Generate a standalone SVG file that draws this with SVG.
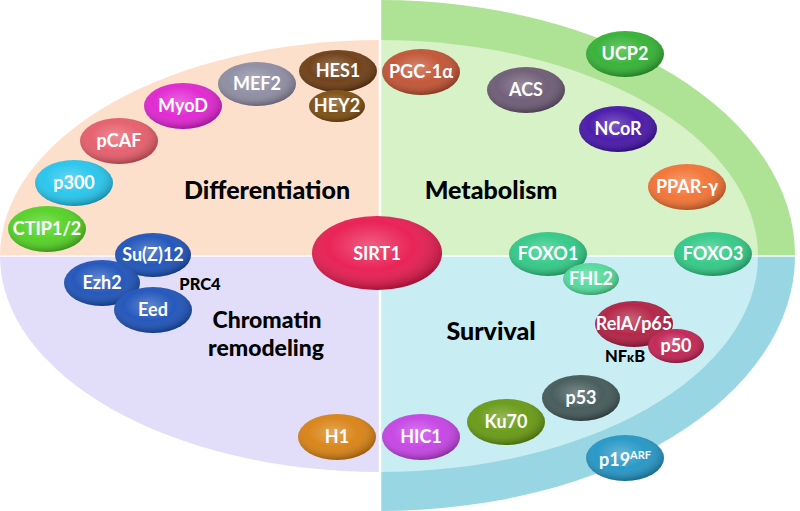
<svg xmlns="http://www.w3.org/2000/svg" width="800" height="511" viewBox="0 0 800 511">
<style>
.lbl{font-family:Lato,"Liberation Sans",Arial,sans-serif;font-weight:bold;fill:#fff;font-size:18px;text-anchor:middle}
.big{font-family:Lato,"Liberation Sans",Arial,sans-serif;font-weight:900;fill:#000;font-size:25px;text-anchor:middle}
.mid{font-family:Lato,"Liberation Sans",Arial,sans-serif;font-weight:900;fill:#000;font-size:23px;text-anchor:middle}
.sm{font-family:Lato,"Liberation Sans",Arial,sans-serif;font-weight:900;fill:#000;font-size:16.5px;text-anchor:middle}
.shade{fill:url(#shade)}
</style>
<defs>
<radialGradient id="shade" cx="0.45" cy="0.4" r="0.6">
<stop offset="0" stop-color="#fff" stop-opacity="0.3"/>
<stop offset="0.55" stop-color="#fff" stop-opacity="0.05"/>
<stop offset="1" stop-color="#000" stop-opacity="0.28"/>
</radialGradient>
</defs>
<g id="background">
<path d="M380,0 A415,255 0 0 1 795,256 L380,256 Z" fill="#aee294"/>
<path d="M795,256 A415,255 0 0 1 380,511 L380,256 Z" fill="#98d6e4"/>
<path d="M380,40 A378,216 0 0 1 758,256 L380,256 Z" fill="#d6f2c6"/>
<path d="M758,256 A378,216 0 0 1 380,472 L380,256 Z" fill="#c8edf3"/>
<path d="M380,40 A380,216 0 0 0 0,256 L380,256 Z" fill="#fde0cc"/>
<path d="M0,256 A380,216 0 0 0 380,472 L380,256 Z" fill="#e2ddf8"/>
<line x1="0" y1="256" x2="800" y2="256" stroke="#fff" stroke-opacity="0.7" stroke-width="2"/>
<line x1="380" y1="0" x2="380" y2="511" stroke="#fff" stroke-width="2.5"/>
</g>
<g id="titles">
<text class="big" x="267" y="199">Differentiation</text>
<text class="big" x="491" y="199">Metabolism</text>
<text class="mid" x="267" y="328">Chromatin</text>
<text class="mid" x="266" y="356">remodeling</text>
<text class="big" x="491" y="340">Survival</text>
<text class="sm" x="200" y="290">PRC4</text>
<text class="sm" x="625" y="362">NF<tspan font-size="13">κ</tspan>B</text>
</g>
<g id="connectors"></g>
<g id="n-HES1"><ellipse cx="338" cy="71" rx="39" ry="21" fill="#6b3a10"/><ellipse class="shade" cx="338" cy="71" rx="39" ry="21"/><text class="lbl" x="338" y="77">HES1</text></g>
<g id="n-HEY2"><ellipse cx="337" cy="106" rx="28" ry="16" fill="#7a4a0c"/><ellipse class="shade" cx="337" cy="106" rx="28" ry="16"/><text class="lbl" x="337" y="112">HEY2</text></g>
<g id="n-MEF2"><ellipse cx="257" cy="84" rx="39" ry="22" fill="#8c8aa0"/><ellipse class="shade" cx="257" cy="84" rx="39" ry="22"/><text class="lbl" x="257" y="90">MEF2</text></g>
<g id="n-MyoD"><ellipse cx="183" cy="106" rx="39" ry="23" fill="#e020d0"/><ellipse class="shade" cx="183" cy="106" rx="39" ry="23"/><text class="lbl" x="183" y="112">MyoD</text></g>
<g id="n-pCAF"><ellipse cx="119" cy="141" rx="39" ry="23" fill="#e55a68"/><ellipse class="shade" cx="119" cy="141" rx="39" ry="23"/><text class="lbl" x="119" y="147">pCAF</text></g>
<g id="n-p300"><ellipse cx="74" cy="183" rx="39" ry="23" fill="#22c4ec"/><ellipse class="shade" cx="74" cy="183" rx="39" ry="23"/><text class="lbl" x="74" y="189">p300</text></g>
<g id="n-CTIP"><ellipse cx="47" cy="229" rx="39" ry="23" fill="#50d020"/><ellipse class="shade" cx="47" cy="229" rx="39" ry="23"/><text class="lbl" x="47" y="235" font-size="17">CTIP1/2</text></g>
<g id="n-SuZ12"><ellipse cx="153" cy="255" rx="38" ry="22" fill="#1a50b8"/><ellipse class="shade" cx="153" cy="255" rx="38" ry="22"/><text class="lbl" x="153" y="261">Su(Z)12</text></g>
<g id="n-Ezh2"><ellipse cx="102" cy="283" rx="38" ry="23" fill="#1a50b8"/><ellipse class="shade" cx="102" cy="283" rx="38" ry="23"/><text class="lbl" x="102" y="289">Ezh2</text></g>
<g id="n-Eed"><ellipse cx="153" cy="310" rx="39" ry="23" fill="#1a50b8"/><ellipse class="shade" cx="153" cy="310" rx="39" ry="23"/><text class="lbl" x="153" y="316">Eed</text></g>
<g id="n-H1"><ellipse cx="337" cy="437" rx="39" ry="23" fill="#d88010"/><ellipse class="shade" cx="337" cy="437" rx="39" ry="23"/><text class="lbl" x="337" y="443">H1</text></g>
<g id="n-SIRT1"><ellipse cx="377" cy="253" rx="65" ry="37" fill="#e8184e"/><ellipse class="shade" cx="377" cy="253" rx="65" ry="37"/><text class="lbl" x="377" y="260" font-size="21">SIRT1</text></g>
<g id="n-PGC1a"><ellipse cx="421" cy="72" rx="39" ry="23" fill="#c05030"/><ellipse class="shade" cx="421" cy="72" rx="39" ry="23"/><text class="lbl" x="421" y="78">PGC-1α</text></g>
<g id="n-UCP2"><ellipse cx="625" cy="54" rx="39" ry="23" fill="#30b030"/><ellipse class="shade" cx="625" cy="54" rx="39" ry="23"/><text class="lbl" x="625" y="60">UCP2</text></g>
<g id="n-ACS"><ellipse cx="526" cy="90" rx="39" ry="23" fill="#6a5872"/><ellipse class="shade" cx="526" cy="90" rx="39" ry="23"/><text class="lbl" x="526" y="96">ACS</text></g>
<g id="n-NCoR"><ellipse cx="618" cy="129" rx="39" ry="23" fill="#4412a8"/><ellipse class="shade" cx="618" cy="129" rx="39" ry="23"/><text class="lbl" x="618" y="135">NCoR</text></g>
<g id="n-PPARg"><ellipse cx="687" cy="187" rx="39" ry="23" fill="#f27030"/><ellipse class="shade" cx="687" cy="187" rx="39" ry="23"/><text class="lbl" x="687" y="193">PPAR-γ</text></g>
<g id="n-FOXO1"><ellipse cx="548" cy="254" rx="39" ry="22" fill="#2ec884"/><ellipse class="shade" cx="548" cy="254" rx="39" ry="22"/><text class="lbl" x="548" y="260">FOXO1</text></g>
<g id="n-FOXO3"><ellipse cx="713" cy="254" rx="39" ry="22" fill="#2ec884"/><ellipse class="shade" cx="713" cy="254" rx="39" ry="22"/><text class="lbl" x="713" y="260">FOXO3</text></g>
<g id="n-FHL2"><ellipse cx="591" cy="279" rx="28" ry="16" fill="#50d898"/><ellipse class="shade" cx="591" cy="279" rx="28" ry="16"/><text class="lbl" x="591" y="285">FHL2</text></g>
<g id="n-RelA"><ellipse cx="634" cy="324" rx="39" ry="23" fill="#b01c40"/><ellipse class="shade" cx="634" cy="324" rx="39" ry="23"/><text class="lbl" x="634" y="330" font-size="17">RelA/p65</text></g>
<g id="n-p50"><ellipse cx="676" cy="346" rx="28" ry="17" fill="#c02050"/><ellipse class="shade" cx="676" cy="346" rx="28" ry="17"/><text class="lbl" x="676" y="352">p50</text></g>
<g id="n-p53"><ellipse cx="581" cy="398" rx="39" ry="23" fill="#405656"/><ellipse class="shade" cx="581" cy="398" rx="39" ry="23"/><text class="lbl" x="581" y="404">p53</text></g>
<g id="n-Ku70"><ellipse cx="506" cy="422" rx="39" ry="23" fill="#649810"/><ellipse class="shade" cx="506" cy="422" rx="39" ry="23"/><text class="lbl" x="506" y="428">Ku70</text></g>
<g id="n-HIC1"><ellipse cx="421" cy="437" rx="39" ry="23" fill="#c440e4"/><ellipse class="shade" cx="421" cy="437" rx="39" ry="23"/><text class="lbl" x="421" y="443">HIC1</text></g>
<g id="n-p19ARF"><ellipse cx="625" cy="458" rx="39" ry="23" fill="#2094c4"/><ellipse class="shade" cx="625" cy="458" rx="39" ry="23"/><text class="lbl" x="625" y="466">p19<tspan font-size="11" dy="-7">ARF</tspan></text></g>
</svg>
